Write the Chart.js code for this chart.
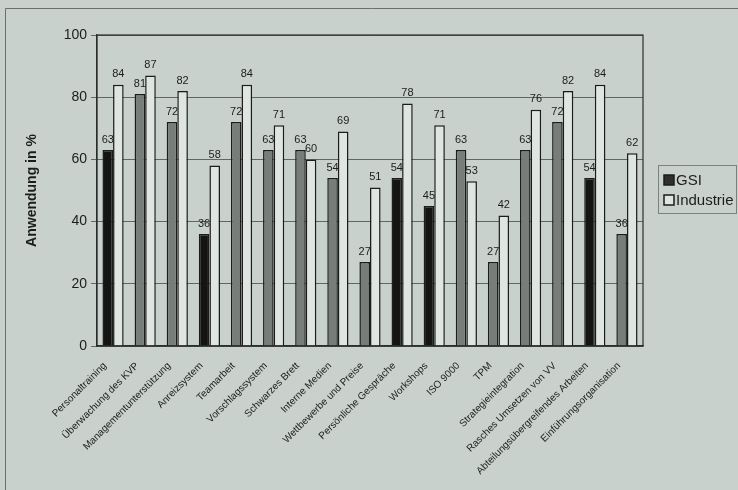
<!DOCTYPE html>
<html>
<head>
<meta charset="utf-8">
<script src="https://cdn.jsdelivr.net/npm/chart.js@4/dist/chart.umd.min.js"></script>
<style>
  html, body { margin: 0; padding: 0; background: #c9d1cc; }
  canvas { display: block; }
</style>
</head>
<body>
<canvas id="c" width="738" height="490"></canvas>
<script>
// Anwendung von KVP-Instrumenten: GSI im Vergleich zur Industrie (in %)
const categories = [
  'Personaltraining', 'Überwachung des KVP', 'Managementunterstützung', 'Anreizsystem',
  'Teamarbeit', 'Vorschlagssystem', 'Schwarzes Brett', 'Interne Medien',
  'Wettbewerbe und Preise', 'Persönliche Gespräche', 'Workshops', 'ISO 9000', 'TPM',
  'Strategieintegration', 'Rasches Umsetzen von VV', 'Abteilungsübergreifendes Arbeiten',
  'Einführungsorganisation'
];
const gsiValues       = [63, 81, 72, 36, 72, 63, 63, 54, 27, 54, 45, 63, 27, 63, 72, 54, 36];
const industrieValues = [84, 87, 82, 58, 84, 71, 60, 69, 51, 78, 71, 53, 42, 76, 82, 84, 62];
const yTicks = [0, 20, 40, 60, 80, 100];

// Instrumente, die bei GSI hervorgehoben (schwarz) dargestellt werden
const gsiHighlighted = ['Personaltraining', 'Anreizsystem', 'Persönliche Gespräche', 'Workshops',
  'Abteilungsübergreifendes Arbeiten'];

const INK = '#1b1d1c';
const GREY = '#777d7a';
const DARK = '#141414';
const LIGHT = '#dfe6e2';
const GRID = '#5f6663';
const FONT = '"Liberation Sans", Arial, sans-serif';

const gsiColors = categories.map(c => gsiHighlighted.includes(c) ? DARK : GREY);

// Werte über den Balken
const valueLabels = {
  id: 'valueLabels',
  afterDatasetsDraw(chart) {
    const ctx = chart.ctx;
    ctx.save();
    ctx.font = '11px ' + FONT;
    ctx.fillStyle = INK;
    ctx.textAlign = 'center';
    ctx.textBaseline = 'bottom';
    chart.data.datasets.forEach((ds, di) => {
      chart.getDatasetMeta(di).data.forEach((bar, i) => {
        ctx.fillText(String(ds.data[i]), bar.x, bar.y - 5);
      });
    });
    ctx.restore();
  }
};

// Rahmen um die Zeichenfläche, äußerer Rahmen und Legende mit Kasten
const frame = {
  id: 'frame',
  afterDraw(chart) {
    const ctx = chart.ctx;
    const a = chart.chartArea;
    ctx.save();
    ctx.strokeStyle = '#2a2d2c';
    ctx.lineWidth = 1.2;
    ctx.strokeRect(a.left, a.top, a.right - a.left, a.bottom - a.top);

    // äußerer Rahmen
    ctx.strokeStyle = '#6a716d';
    ctx.lineWidth = 1;
    ctx.beginPath();
    ctx.moveTo(5.5, 490);
    ctx.lineTo(5.5, 8.5);
    ctx.lineTo(738, 8.5);
    ctx.stroke();

    // Legende
    const lx = 658, ly = 165, lw = 78, lh = 48;
    ctx.strokeStyle = '#7b827e';
    ctx.lineWidth = 1;
    ctx.strokeRect(lx + 0.5, ly + 0.5, lw, lh);
    const items = [
      { text: 'GSI', fill: '#2e302f' },
      { text: 'Industrie', fill: LIGHT }
    ];
    ctx.font = '15px ' + FONT;
    ctx.textBaseline = 'middle';
    ctx.textAlign = 'left';
    items.forEach((it, k) => {
      const y = ly + 15 + k * 20;
      ctx.fillStyle = it.fill;
      ctx.fillRect(lx + 6, y - 5, 10, 10);
      ctx.strokeStyle = INK;
      ctx.lineWidth = 1.5;
      ctx.strokeRect(lx + 6, y - 5, 10, 10);
      ctx.fillStyle = INK;
      ctx.fillText(it.text, lx + 18, y + 1);
    });
    ctx.restore();
  }
};

new Chart(document.getElementById('c'), {
  type: 'bar',
  data: {
    labels: categories,
    datasets: [
      {
        label: 'GSI',
        data: gsiValues,
        backgroundColor: gsiColors,
        borderColor: INK,
        borderWidth: 1.5,
        borderSkipped: 'bottom'
      },
      {
        label: 'Industrie',
        data: industrieValues,
        backgroundColor: LIGHT,
        borderColor: INK,
        borderWidth: 1.5,
        borderSkipped: 'bottom'
      }
    ]
  },
  options: {
    responsive: false,
    animation: false,
    layout: { padding: { top: 35, right: 95, left: 0, bottom: 0 } },
    datasets: { bar: { categoryPercentage: 0.66, barPercentage: 1.0 } },
    plugins: {
      legend: { display: false },
      tooltip: { enabled: false }
    },
    scales: {
      x: {
        grid: { display: false },
        border: { display: true, color: '#2a2d2c', width: 1.2 },
        ticks: {
          color: INK,
          font: { family: FONT, size: 10 },
          minRotation: 45,
          maxRotation: 45,
          autoSkip: false,
          padding: 6,
          labelOffset: -8
        },
        afterFit(scale) { scale.height = 144; }
      },
      y: {
        min: 0,
        max: 100,
        afterBuildTicks(scale) { scale.ticks = yTicks.map(v => ({ value: v })); },
        grid: {
          color: GRID,
          lineWidth: 1,
          drawTicks: true,
          tickLength: 6
        },
        border: { display: true, color: '#2a2d2c', width: 1.2 },
        ticks: {
          color: INK,
          font: { family: FONT, size: 14 },
          padding: 4
        },
        title: {
          display: true,
          text: 'Anwendung in %',
          color: INK,
          font: { family: FONT, size: 14, weight: 'bold' },
          padding: { top: 24, bottom: 0 }
        },
        afterFit(scale) { scale.width = 97; }
      }
    }
  },
  plugins: [valueLabels, frame]
});
</script>
</body>
</html>
